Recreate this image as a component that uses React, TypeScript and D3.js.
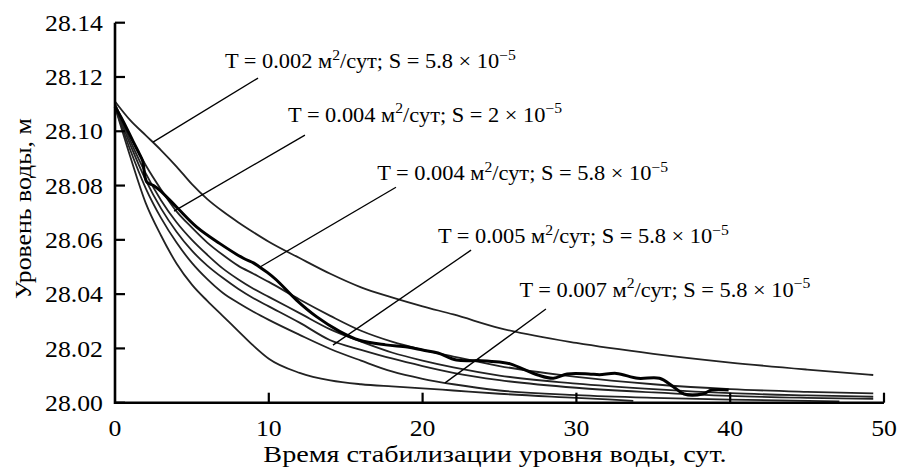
import React from "react";
import * as d3 from "d3";

// ---- Data ----
const xGrid = [0, 1, 2, 3, 4, 5, 6, 7, 8, 9, 10, 12, 14, 16, 18, 20, 22, 25, 30, 35, 40, 45, 49.3];

// model curves, water level in m
const curveA = [28.111, 28.104, 28.0985, 28.093, 28.087, 28.0805, 28.075, 28.0705, 28.0665, 28.0628, 28.0593, 28.0533, 28.0475, 28.0425, 28.0388, 28.0355, 28.0325, 28.0275, 28.022, 28.018, 28.0148, 28.0122, 28.0102];
const curveB = [28.110, 28.098, 28.0875, 28.0785, 28.0705, 28.0645, 28.059, 28.0545, 28.0505, 28.0475, 28.0445, 28.038, 28.032, 28.0265, 28.0225, 28.0195, 28.017, 28.0135, 28.0095, 28.0068, 28.005, 28.004, 28.0034];
const curveC = [28.110, 28.0965, 28.0845, 28.0745, 28.0665, 28.060, 28.0545, 28.0495, 28.0455, 28.042, 28.039, 28.033, 28.027, 28.0225, 28.0185, 28.0155, 28.013, 28.010, 28.007, 28.005, 28.0035, 28.0027, 28.0022];
const curveD = [28.1095, 28.095, 28.082, 28.0715, 28.063, 28.056, 28.0505, 28.046, 28.042, 28.0385, 28.0355, 28.0295, 28.023, 28.0195, 28.0163, 28.0135, 28.011, 28.0083, 28.0055, 28.0038, 28.0025, 28.0018, 28.0014];
const xGridF = [0, 1, 2, 3, 4, 5, 6, 7, 8, 9, 10, 12, 14, 16, 18, 20, 22, 25, 30, 35, 40, 47.1];
const curveF = [28.109, 28.093, 28.079, 28.068, 28.059, 28.0515, 28.0455, 28.0405, 28.0368, 28.0335, 28.0305, 28.025, 28.0198, 28.0155, 28.0115, 28.0088, 28.0068, 28.0045, 28.0028, 28.0018, 28.0011, 28.0005];
const xGridE = [0, 1, 2, 3, 4, 5, 6, 7, 8, 9, 10, 12, 14, 16, 18, 20, 22, 25, 30, 33.7];
const curveE = [28.109, 28.0905, 28.0735, 28.0615, 28.0513, 28.0435, 28.0375, 28.032, 28.0265, 28.021, 28.0162, 28.011, 28.0082, 28.0068, 28.006, 28.0053, 28.0045, 28.0033, 28.0018, 28.0007];

// observed water level (bold)
const obsX = [0, 0.5, 1.2, 1.6, 1.8, 2.06, 2.5, 2.9, 4.0, 5.3, 6.8, 8.35, 9.0, 9.4, 9.9, 10.5, 11.8, 13.1, 14.6, 15.9, 17.6, 19.0, 20, 21, 22.2, 23.8, 25, 25.7, 27.5, 28.5, 29.4, 30.8, 31.5, 32.6, 34.0, 35.4, 36.3, 37.0, 38.2, 38.8, 39.9];
const obsY = [28.109, 28.104, 28.096, 28.0915, 28.089, 28.0814, 28.080, 28.0783, 28.0721, 28.0648, 28.0587, 28.0532, 28.0515, 28.050, 28.048, 28.0452, 28.0378, 28.0317, 28.0263, 28.023, 28.0213, 28.0205, 28.0194, 28.0183, 28.0157, 28.0155, 28.015, 28.0143, 28.0102, 28.009, 28.0106, 28.0106, 28.0103, 28.0108, 28.009, 28.009, 28.0059, 28.0032, 28.0032, 28.0047, 28.0047];

// annotations
const labelT = ["0.002", "0.004", "0.004", "0.005", "0.007"];
const labelS = ["5.8", "2", "5.8", "5.8", "5.8"];
const labelX = [7.15, 11.25, 17.05, 21.0, 26.3];
const labelY = [28.1233, 28.1035, 28.082, 28.0588, 28.0391];
const leadFromX = [9.3, 12.35, 18.27, 23.15, 28.02];
const leadFromY = [28.1196, 28.0986, 28.0794, 28.0562, 28.0345];
const leadToX = [2.47, 3.84, 9.43, 14.17, 21.46];
const leadToY = [28.096, 28.0706, 28.050, 28.0212, 28.0073];

const xTicks = [0, 10, 20, 30, 40, 50];
const yTicks = [28.0, 28.02, 28.04, 28.06, 28.08, 28.1, 28.12, 28.14];
const xTitle = "Время стабилизации уровня воды, сут.";
const yTitle = "Уровень воды, м";

const W = 899;
const H = 468;
const FONT = "Liberation Serif";
const STRETCH = 1.12;

function SText(props: {
  x: number;
  y: number;
  size: number;
  anchor?: "start" | "middle" | "end";
  rotate?: number;
  stretch?: number;
  children: React.ReactNode;
}) {
  const { x, y, size, anchor = "start", rotate = 0, stretch = STRETCH, children } = props;
  return (
    <g transform={`translate(${x},${y}) rotate(${rotate}) scale(${stretch},1)`}>
      <text x={0} y={0} fontSize={size} textAnchor={anchor} fill="#000" fontFamily={FONT}>
        {children}
      </text>
    </g>
  );
}

export default function App() {
  const x = d3.scaleLinear().domain([0, 50]).range([115, 884]);
  const y = d3.scaleLinear().domain([28.0, 28.14]).range([402.7, 22.7]);

  const line = d3
    .line<[number, number]>()
    .x((d) => x(d[0]))
    .y((d) => y(d[1]))
    .curve(d3.curveMonotoneX);
  const obsLine = d3
    .line<[number, number]>()
    .x((d) => x(d[0]))
    .y((d) => y(d[1]))
    .curve(d3.curveCatmullRom.alpha(0.5));

  const zip = (xs: number[], ys: number[]) => xs.map((v, i) => [v, ys[i]] as [number, number]);
  const models = [
    zip(xGrid, curveA),
    zip(xGrid, curveB),
    zip(xGrid, curveC),
    zip(xGrid, curveD),
    zip(xGridF, curveF),
    zip(xGridE, curveE),
  ];

  return (
    <div style={{ position: "fixed", left: 0, top: 0 }}>
      <svg width={W} height={H} style={{ display: "block", background: "#fff" }}>
        {/* model curves */}
        {models.map((m, i) => (
          <path key={i} d={line(m) || ""} fill="none" stroke="#222" strokeWidth={1.8} />
        ))}
        {/* observed */}
        <path d={obsLine(zip(obsX, obsY)) || ""} fill="none" stroke="#000" strokeWidth={3} strokeLinejoin="round" />

        {/* leader lines */}
        {leadFromX.map((fx, i) => (
          <line
            key={i}
            x1={x(fx)}
            y1={y(leadFromY[i])}
            x2={x(leadToX[i])}
            y2={y(leadToY[i])}
            stroke="#000"
            strokeWidth={1.3}
          />
        ))}

        {/* labels */}
        {labelT.map((t, i) => (
          <SText key={i} x={x(labelX[i])} y={y(labelY[i])} size={20}>
            <tspan>{`T = ${t} м`}</tspan>
            <tspan dy={-8.5} fontSize={14}>2</tspan>
            <tspan dy={8.5}>{`/сут; S = ${labelS[i]} × 10`}</tspan>
            <tspan dy={-8.5} fontSize={14}>−5</tspan>
          </SText>
        ))}

        {/* axes */}
        <line x1={x(0)} x2={x(50)} y1={y(28)} y2={y(28)} stroke="#000" strokeWidth={2.6} />
        <line x1={x(0)} x2={x(0)} y1={y(28) + 1.3} y2={y(28.14)} stroke="#000" strokeWidth={2.6} />
        {xTicks.map((t) => (
          <g key={t}>
            {t > 0 && <line x1={x(t)} x2={x(t)} y1={y(28)} y2={y(28) - 10} stroke="#000" strokeWidth={2.2} />}
            <SText x={x(t)} y={436} size={23} anchor="middle">
              {t}
            </SText>
          </g>
        ))}
        {yTicks.map((t) => (
          <g key={t}>
            <line x1={x(0)} x2={x(0) + 10} y1={y(t)} y2={y(t)} stroke="#000" strokeWidth={2.2} />
            <SText x={103} y={y(t) + 8.2} size={23} anchor="end">
              {t.toFixed(2)}
            </SText>
          </g>
        ))}
        <SText x={495} y={462} size={23.5} anchor="middle" stretch={1.2}>
          {xTitle}
        </SText>
        <SText x={31} y={(y(28) + y(28.14)) / 2 - 4} size={23} anchor="middle" rotate={-90}>
          {yTitle}
        </SText>
      </svg>
    </div>
  );
}
